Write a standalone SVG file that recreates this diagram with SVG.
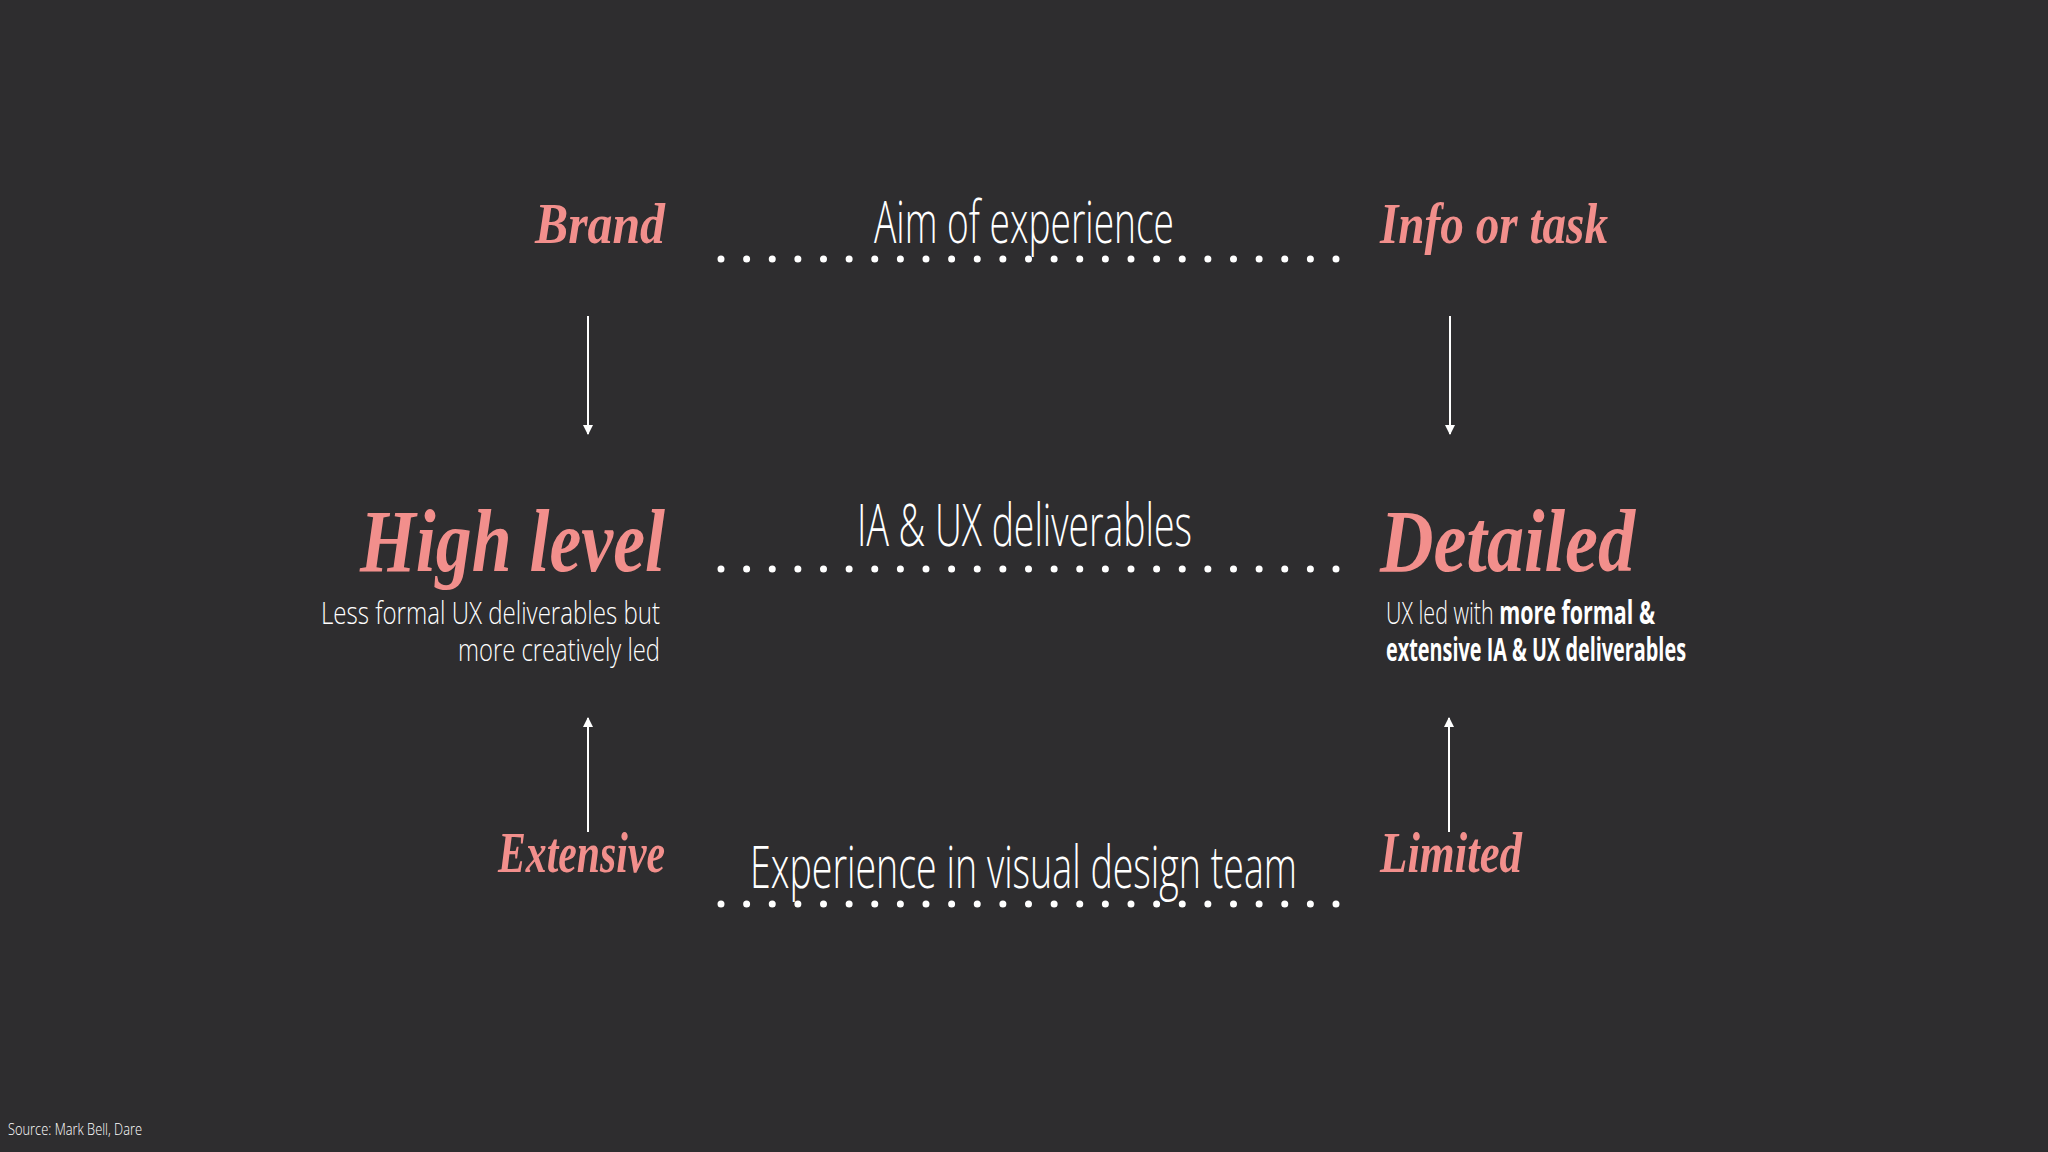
<svg xmlns="http://www.w3.org/2000/svg" width="2048" height="1152" viewBox="0 0 2048 1152">
<defs>
<style>
.bg{fill:#2e2d2f}
.script{font-family:"Liberation Serif","DejaVu Serif",serif;font-style:italic;font-weight:700;fill:#f28f8c}
.light{font-family:"Open Sans","Noto Sans",sans-serif;font-weight:300;fill:#ffffff}
.b{font-weight:700}
.dots{stroke:#ffffff;stroke-width:7;stroke-linecap:round;stroke-dasharray:0 25.625;fill:none}
.arrow{stroke:#ffffff;stroke-width:2;fill:none}
</style>
<marker id="ah" viewBox="0 0 10 10" refX="9" refY="5" markerWidth="5" markerHeight="5" orient="auto" markerUnits="strokeWidth">
<path d="M0,0 L10,5 L0,10 z" fill="#ffffff"/>
</marker>
</defs>
<rect class="bg" x="0" y="0" width="2048" height="1152"/>

<g id="connectors">
<line class="dots" x1="721" y1="259" x2="1338" y2="259"/>
<line class="dots" x1="721" y1="569" x2="1338" y2="569"/>
<line class="dots" x1="721" y1="904" x2="1338" y2="904"/>
<line class="arrow" x1="588" y1="316" x2="588" y2="434" marker-end="url(#ah)"/>
<line class="arrow" x1="1450" y1="316" x2="1450" y2="434" marker-end="url(#ah)"/>
<line class="arrow" x1="588" y1="832" x2="588" y2="718" marker-end="url(#ah)"/>
<line class="arrow" x1="1449" y1="832" x2="1449" y2="718" marker-end="url(#ah)"/>
</g>

<g id="brand"><text class="script" x="535" y="243" font-size="58" textLength="130" lengthAdjust="spacingAndGlyphs">Brand</text></g>
<g id="aim"><text class="light" x="874" y="243" font-size="58" textLength="300" lengthAdjust="spacingAndGlyphs">Aim of experience</text></g>
<g id="info"><text class="script" x="1380" y="243" font-size="58" textLength="228" lengthAdjust="spacingAndGlyphs">Info or task</text></g>

<g id="high-level">
<text class="script" x="360" y="571" font-size="88" textLength="305" lengthAdjust="spacingAndGlyphs">High level</text>
<text class="light" x="321" y="624" font-size="32" textLength="339" lengthAdjust="spacingAndGlyphs">Less formal UX deliverables but</text>
<text class="light" x="458" y="661" font-size="32" textLength="202" lengthAdjust="spacingAndGlyphs">more creatively led</text>
</g>
<g id="ia-ux"><text class="light" x="857" y="546" font-size="58" textLength="335" lengthAdjust="spacingAndGlyphs">IA &amp; UX deliverables</text></g>
<g id="detailed">
<text class="script" x="1380" y="571" font-size="88" textLength="255" lengthAdjust="spacingAndGlyphs">Detailed</text>
<text class="light" x="1386" y="624" font-size="32" textLength="269" lengthAdjust="spacingAndGlyphs">UX led with <tspan class="b">more formal &amp;</tspan></text>
<text class="light b" x="1386" y="661" font-size="32" textLength="300" lengthAdjust="spacingAndGlyphs">extensive IA &amp; UX deliverables</text>
</g>

<g id="extensive"><text class="script" x="498" y="872" font-size="58" textLength="167" lengthAdjust="spacingAndGlyphs">Extensive</text></g>
<g id="experience"><text class="light" x="750" y="888" font-size="58" textLength="547" lengthAdjust="spacingAndGlyphs">Experience in visual design team</text></g>
<g id="limited"><text class="script" x="1380" y="872" font-size="58" textLength="142" lengthAdjust="spacingAndGlyphs">Limited</text></g>

<g id="source"><text class="light" x="8" y="1135" font-size="17" textLength="134" lengthAdjust="spacingAndGlyphs" fill="#dddddd">Source: Mark Bell, Dare</text></g>
</svg>
